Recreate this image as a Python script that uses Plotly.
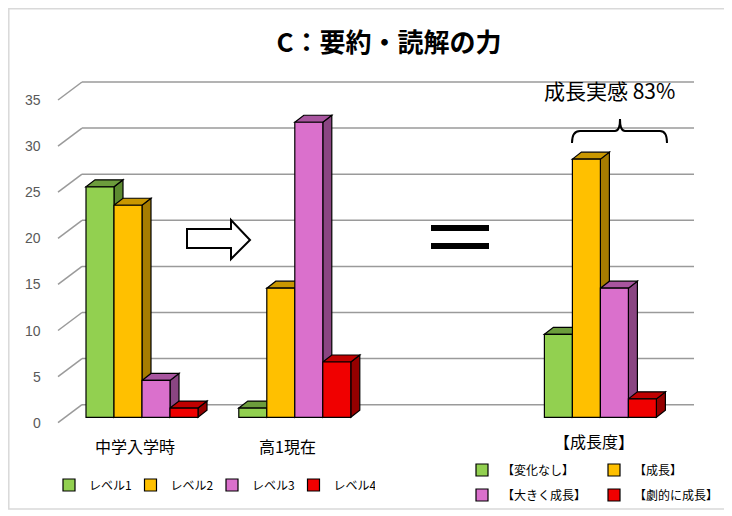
import plotly.graph_objects as go

# ---- data ----
categories = ["中学入学時", "高1現在", "", "【成長度】"]
level_names = ["レベル1", "レベル2", "レベル3", "レベル4"]
level_vals = [
    [25, 1],    # レベル1
    [23, 14],   # レベル2
    [4, 32],    # レベル3
    [1, 6],     # レベル4
]
growth_names = ["【変化なし】", "【成長】", "【大きく成長】", "【劇的に成長】"]
growth_vals = [9, 28, 14, 2]
y_ticks = [0, 5, 10, 15, 20, 25, 30, 35]
title_text = "C：要約・読解の力"
note_text = "成長実感 83%"

front_col = ["#92D050", "#FFC000", "#DA70CC", "#F00000"]
top_col = ["#6C9C3C", "#C99700", "#A8559F", "#C00000"]
side_col = ["#5C8A30", "#A67C00", "#8A4582", "#950000"]

FONT = "Noto Sans CJK JP"
W, H = 732, 516
OFF = 8                     # page margin around the figure
FW, FH = W - OFF, H - OFF   # figure size

# pixel mapping (page pixels) of the data axes; margins are zero
X0, XS = 142.0 - OFF, 152.8     # px of category 0, px per category
Y0, YS = 417.3 - OFF, 9.22      # px of value 0 (bar front), px per unit
BW = 28.0 / XS                  # bar width
DDX, DDY = 9.0 / XS, 7.0 / YS           # bar depth
BACK_DY = 12.6 / YS                     # back wall offset
FLOOR_DX, FLOOR_DY = 24.0 / XS, 18.0 / YS
GRID_L, GRID_R = (82 - OFF - X0) / XS, (694 - OFF - X0) / XS


def paper(px, py):
    return (px - OFF) / FW, 1 - (py - OFF) / FH


fig = go.Figure()
shapes = []

# back-wall gridlines with the diagonal floor part
for t in y_ticks:
    yb = t + BACK_DY
    shapes.append(dict(type="line", xref="x", yref="y", layer="below",
                       x0=GRID_L - FLOOR_DX, y0=yb - FLOOR_DY, x1=GRID_L, y1=yb,
                       line=dict(color="#9A9A9A", width=1.5)))
    shapes.append(dict(type="line", xref="x", yref="y", layer="below",
                       x0=GRID_L, y0=yb, x1=GRID_R, y1=yb,
                       line=dict(color="#9A9A9A", width=1.5)))


def faces(xc, i, v):
    x0 = xc - 2 * BW + i * BW
    x1 = x0 + BW
    side = (f"M{x1},0 L{x1 + DDX},{DDY} L{x1 + DDX},{v + DDY} L{x1},{v} Z")
    top = (f"M{x0},{v} L{x0 + DDX},{v + DDY} L{x1 + DDX},{v + DDY} L{x1},{v} Z")
    out = []
    for path, col in ((side, side_col[i]), (top, top_col[i])):
        out.append(dict(type="path", xref="x", yref="y", layer="below", path=path,
                        fillcolor=col, line=dict(color="black", width=1.2)))
    return out


xs_level = [0, 1]
x_growth = 3
for g, xc in enumerate(xs_level):
    for i in range(4):
        shapes += faces(xc, i, level_vals[i][g])
for i in range(4):
    shapes += faces(x_growth, i, growth_vals[i])

for i, name in enumerate(level_names):
    fig.add_trace(go.Bar(
        x=xs_level, y=level_vals[i], name=name, width=BW, offset=-2 * BW + i * BW,
        marker=dict(color=front_col[i], line=dict(color="black", width=1.2)),
        legend="legend", hoverinfo="y"))
for i, name in enumerate(growth_names):
    fig.add_trace(go.Bar(
        x=[x_growth], y=[growth_vals[i]], name=name, width=BW, offset=-2 * BW + i * BW,
        marker=dict(color=front_col[i], line=dict(color="black", width=1.2)),
        legend="legend2" if i < 2 else "legend3", hoverinfo="y"))

# decorations: arrow, equals sign, brace, border
arrow = [(187, 229), (231, 229), (231, 220), (250, 240), (231, 259), (231, 248), (187, 248)]
pts = [paper(*p) for p in arrow]
shapes.append(dict(type="path", xref="paper", yref="paper",
                   path="M" + " L".join(f"{a},{b}" for a, b in pts) + " Z",
                   fillcolor="white", line=dict(color="black", width=2)))
for ya, yb in ((225, 231), (243, 249)):
    (ax, ay), (bx, by) = paper(431, ya), paper(489, yb)
    shapes.append(dict(type="rect", xref="paper", yref="paper", x0=ax, y0=ay, x1=bx, y1=by,
                       fillcolor="black", line=dict(width=0)))
brace = [("M", 572, 143), ("Q", 572, 131), ("", 580, 131), ("L", 615, 131),
         ("Q", 620, 131), ("", 620, 119), ("Q", 620, 131), ("", 625, 131),
         ("L", 660, 131), ("Q", 667, 131), ("", 667, 143)]
bp = ""
for cmd, a, b in brace:
    px_, py_ = paper(a, b)
    bp += f"{cmd}{px_},{py_} "
shapes.append(dict(type="path", xref="paper", yref="paper", path=bp,
                   line=dict(color="black", width=2)))
(bx0, by0), (bx1, by1) = paper(OFF + 0.8, OFF + 0.8), paper(725, 509)
shapes.append(dict(type="rect", xref="paper", yref="paper", x0=bx0, y0=by1, x1=bx1, y1=by0,
                   line=dict(color="#D9D9D9", width=1.5)))

annotations = []
for t in y_ticks:
    annotations.append(dict(xref="paper", yref="y", x=paper(43, 0)[0], y=t + BACK_DY - FLOOR_DY,
                            text=str(t), showarrow=False, xanchor="right", yanchor="middle",
                            font=dict(family="Liberation Sans", size=14, color="#595959")))
for k, c in enumerate(categories):
    if c:
        annotations.append(dict(xref="x", yref="y", x=k - 0.045, y=-3.1, text=c,
                                showarrow=False, xanchor="center", yanchor="middle",
                                yshift=5 if k == 3 else 0,
                                font=dict(family=FONT, size=16, color="black")))
nx, ny = paper(609, 90)
annotations.append(dict(xref="paper", yref="paper", x=nx, y=ny, text=note_text,
                        showarrow=False, xanchor="center", yanchor="middle",
                        font=dict(family=FONT, size=21, color="black")))

tx, ty = paper(389, 43)
leg_font = dict(family=FONT, size=12, color="black")
fig.update_layout(
    width=FW, height=FH,
    margin=dict(l=0, r=0, t=0, b=0),
    paper_bgcolor="white", plot_bgcolor="white",
    barmode="overlay",
    title=dict(text="<b>" + title_text + "</b>", x=tx, y=ty, xanchor="center", yanchor="middle",
               font=dict(family=FONT, size=26, color="black")),
    xaxis=dict(range=[-X0 / XS, (FW - X0) / XS], visible=False, fixedrange=True),
    yaxis=dict(range=[(Y0 - FH) / YS, Y0 / YS], visible=False, fixedrange=True),
    shapes=shapes,
    annotations=annotations,
    legend=dict(orientation="h", x=paper(49, 0)[0], y=paper(0, 485)[1], xanchor="left",
                yanchor="middle", font=leg_font, entrywidth=36.5, bgcolor="rgba(0,0,0,0)"),
    legend2=dict(orientation="h", x=paper(462, 0)[0], y=paper(0, 470)[1], xanchor="left",
                 yanchor="middle", font=leg_font, entrywidth=87, bgcolor="rgba(0,0,0,0)"),
    legend3=dict(orientation="h", x=paper(462, 0)[0], y=paper(0, 495)[1], xanchor="left",
                 yanchor="middle", font=leg_font, entrywidth=87, bgcolor="rgba(0,0,0,0)"),
)

fig.write_html("out.html")
